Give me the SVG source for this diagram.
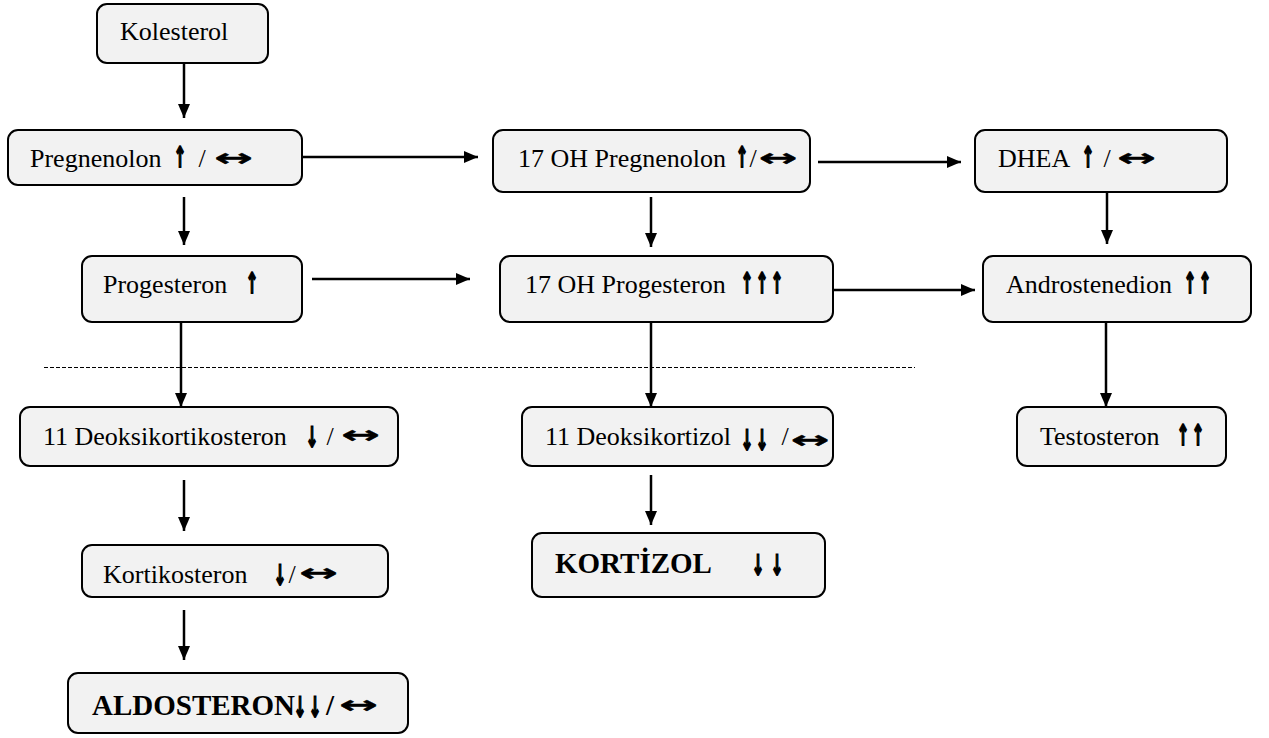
<svg xmlns="http://www.w3.org/2000/svg" width="1269" height="738" viewBox="0 0 1269 738">
<style>
.box{fill:#f2f2f2;stroke:#000;stroke-width:2}
.t{font-family:"Liberation Serif","Times New Roman",serif;font-size:26px;fill:#000}
.b{font-family:"Liberation Serif","Times New Roman",serif;font-size:29px;font-weight:bold;fill:#000}
.ar{font-family:"DejaVu Sans",sans-serif;font-size:21px;font-weight:bold;fill:#000;stroke:#000;stroke-width:1.3px;text-anchor:middle}
.h{stroke-width:0.35px}
.c{stroke:#000;stroke-width:2.5;fill:none}
</style>
<defs>
<marker id="ah" markerWidth="14" markerHeight="12" refX="14" refY="6" orient="auto" markerUnits="userSpaceOnUse">
<path d="M0,0 L14,6 L0,12 Z" fill="#000"/>
</marker>
</defs>
<rect width="1269" height="738" fill="#fff"/>
<g id="connectors">
<line class="c" x1="184" y1="63" x2="184" y2="118" marker-end="url(#ah)"/>
<line class="c" x1="184" y1="197" x2="184" y2="245" marker-end="url(#ah)"/>
<line class="c" x1="302" y1="157" x2="478" y2="157" marker-end="url(#ah)"/>
<line class="c" x1="818" y1="162" x2="961" y2="162" marker-end="url(#ah)"/>
<line class="c" x1="651" y1="197" x2="651" y2="247" marker-end="url(#ah)"/>
<line class="c" x1="1107" y1="192" x2="1107" y2="244" marker-end="url(#ah)"/>
<line class="c" x1="312" y1="279" x2="470" y2="279" marker-end="url(#ah)"/>
<line class="c" x1="833" y1="290" x2="975" y2="290" marker-end="url(#ah)"/>
<line class="c" x1="181" y1="322" x2="181" y2="407" marker-end="url(#ah)"/>
<line class="c" x1="651" y1="322" x2="651" y2="407" marker-end="url(#ah)"/>
<line class="c" x1="1106" y1="322" x2="1106" y2="407" marker-end="url(#ah)"/>
<line class="c" x1="184" y1="480" x2="184" y2="531" marker-end="url(#ah)"/>
<line class="c" x1="184" y1="610" x2="184" y2="660" marker-end="url(#ah)"/>
<line class="c" x1="651" y1="475" x2="651" y2="525" marker-end="url(#ah)"/>
<line x1="44" y1="367.5" x2="915" y2="367.5" stroke="#000" stroke-width="1" stroke-dasharray="4,2"/>
</g>
<g id="kolesterol">
<rect class="box" x="97" y="4" width="171" height="59" rx="10"/>
<text class="t" x="120" y="40">Kolesterol</text>
</g>
<g id="pregnenolon">
<rect class="box" x="8" y="130" width="294" height="55" rx="10"/>
<text class="t" x="30" y="167">Pregnenolon</text>
<text class="ar" transform="translate(180,167) scale(0.72,1.35)">↑</text>
<text class="t" x="198.5" y="167">/</text>
<text class="ar h" transform="translate(233.5,166) scale(2.2,1.15)">↔</text>
</g>
<g id="oh-pregnenolon">
<rect class="box" x="493" y="130" width="317" height="62" rx="10"/>
<text class="t" x="518" y="167">17 OH Pregnenolon</text>
<text class="ar" transform="translate(742,167) scale(0.72,1.35)">↑</text>
<text class="t" x="749.5" y="167">/</text>
<text class="ar h" transform="translate(778,166) scale(2.2,1.15)">↔</text>
</g>
<g id="dhea">
<rect class="box" x="975" y="130" width="252" height="62" rx="10"/>
<text class="t" x="998" y="167">DHEA</text>
<text class="ar" transform="translate(1088,167) scale(0.72,1.35)">↑</text>
<text class="t" x="1103.5" y="167">/</text>
<text class="ar h" transform="translate(1136.5,166) scale(2.2,1.15)">↔</text>
</g>
<g id="progesteron">
<rect class="box" x="82" y="256" width="220" height="66" rx="10"/>
<text class="t" x="103" y="293">Progesteron</text>
<text class="ar" transform="translate(252,293) scale(0.72,1.35)">↑</text>
</g>
<g id="oh-progesteron">
<rect class="box" x="500" y="256" width="333" height="66" rx="10"/>
<text class="t" x="525" y="293">17 OH Progesteron</text>
<text class="ar" transform="translate(747,293) scale(0.72,1.35)">↑</text>
<text class="ar" transform="translate(762,293) scale(0.72,1.35)">↑</text>
<text class="ar" transform="translate(777,293) scale(0.72,1.35)">↑</text>
</g>
<g id="androstenedion">
<rect class="box" x="983" y="256" width="268" height="66" rx="10"/>
<text class="t" x="1006" y="293">Androstenedion</text>
<text class="ar" transform="translate(1190,293) scale(0.72,1.35)">↑</text>
<text class="ar" transform="translate(1205,293) scale(0.72,1.35)">↑</text>
</g>
<g id="deoksikortikosteron">
<rect class="box" x="20" y="407" width="378" height="59" rx="10"/>
<text class="t" x="43" y="445">11 Deoksikortikosteron</text>
<text class="ar" transform="translate(312,447) scale(0.72,1.35)">↓</text>
<text class="t" x="326.5" y="445">/</text>
<text class="ar h" transform="translate(360.5,443) scale(2.2,1.15)">↔</text>
</g>
<g id="deoksikortizol">
<rect class="box" x="522" y="407" width="311" height="59" rx="10"/>
<text class="t" x="545" y="445">11 Deoksikortizol</text>
<text class="ar" transform="translate(747,450) scale(0.72,1.35)">↓</text>
<text class="ar" transform="translate(762,450) scale(0.72,1.35)">↓</text>
<text class="t" x="781.5" y="445">/</text>
<text class="ar h" transform="translate(810,448) scale(2.2,1.15)">↔</text>
</g>
<g id="testosteron">
<rect class="box" x="1017" y="407" width="209" height="59" rx="10"/>
<text class="t" x="1040" y="445">Testosteron</text>
<text class="ar" transform="translate(1183,445) scale(0.72,1.35)">↑</text>
<text class="ar" transform="translate(1198,445) scale(0.72,1.35)">↑</text>
</g>
<g id="kortikosteron">
<rect class="box" x="82" y="545" width="306" height="52" rx="10"/>
<text class="t" x="103" y="583">Kortikosteron</text>
<text class="ar" transform="translate(280,585) scale(0.72,1.35)">↓</text>
<text class="t" x="288.5" y="583">/</text>
<text class="ar h" transform="translate(318.5,581) scale(2.2,1.15)">↔</text>
</g>
<g id="kortizol">
<rect class="box" x="532" y="533" width="293" height="64" rx="10"/>
<text class="b" x="555" y="573">KORTİZOL</text>
<text class="ar" transform="translate(758,575) scale(0.72,1.35)">↓</text>
<text class="ar" transform="translate(777,575) scale(0.72,1.35)">↓</text>
</g>
<g id="aldosteron">
<rect class="box" x="68" y="673" width="340" height="60" rx="10"/>
<text class="b" x="92" y="715">ALDOSTERON</text>
<text class="ar" transform="translate(300,717) scale(0.72,1.35)">↓</text>
<text class="ar" transform="translate(315,717) scale(0.72,1.35)">↓</text>
<text class="b" x="326" y="715">/</text>
<text class="ar h" transform="translate(358.5,713) scale(2.2,1.15)">↔</text>
</g>
</svg>
